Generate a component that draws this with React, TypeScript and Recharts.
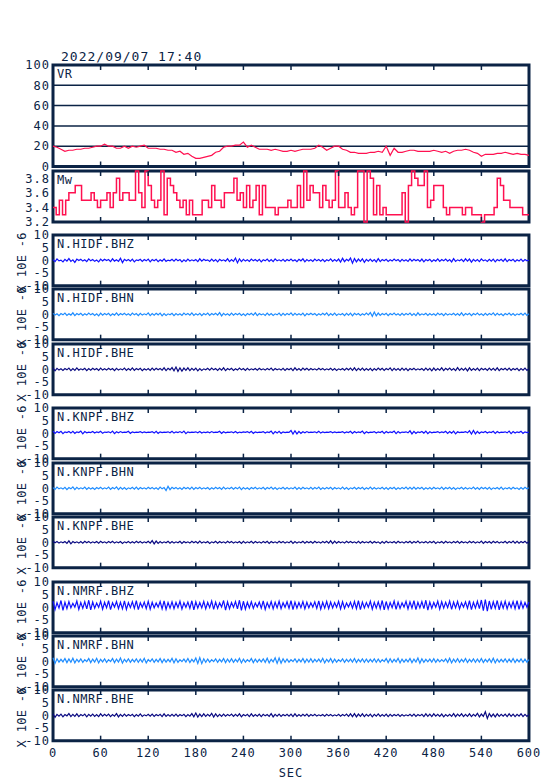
import { LineChart, Line, XAxis, YAxis, CartesianGrid, ReferenceArea, Label } from "recharts";

const TITLE = "2022/09/07 17:40";
const X_TICKS = [0, 60, 120, 180, 240, 300, 360, 420, 480, 540, 600];
const VR_TICKS = [0, 20, 40, 60, 80, 100];
const MW_TICKS = [3.2, 3.4, 3.6, 3.8];
const AMP_TICKS = [-10, -5, 0, 5, 10];

// VR every 5 s
const VR = [
  20, 19, 17, 15, 16, 16, 17, 17, 18, 18,
  19, 20, 20, 22, 20, 20, 18, 18, 20, 18,
  20, 19, 20, 21, 18, 18, 18, 17, 17, 16,
  16, 14, 15, 12, 13, 10, 8, 8, 9, 10,
  11, 14, 15, 19, 20, 20, 21, 21, 24, 19,
  21, 19, 17, 17, 17, 16, 17, 16, 15, 15,
  16, 15, 16, 17, 17, 17, 18, 21, 19, 16,
  18, 20, 20, 17, 16, 14, 14, 13, 13, 13,
  14, 14, 15, 14, 20, 11, 18, 14, 14, 15,
  16, 16, 15, 15, 15, 15, 16, 15, 14, 15,
  13, 15, 16, 16, 17, 16, 14, 13, 10, 12,
  12, 12, 13, 13, 14, 13, 12, 13, 12, 12,
  11,
];

// Mw every 4 s
const MW = [
  3.4, 3.3, 3.5, 3.3, 3.5, 3.6, 3.6, 3.7, 3.7, 3.5,
  3.5, 3.5, 3.6, 3.5, 3.4, 3.5, 3.5, 3.6, 3.4, 3.6,
  3.8, 3.5, 3.6, 3.6, 3.5, 3.5, 3.9, 3.6, 3.4, 3.9,
  3.7, 3.5, 3.4, 3.5, 3.9, 3.3, 3.8, 3.7, 3.6, 3.5,
  3.4, 3.5, 3.3, 3.5, 3.3, 3.3, 3.3, 3.5, 3.5, 3.4,
  3.7, 3.5, 3.5, 3.4, 3.6, 3.6, 3.6, 3.8, 3.5, 3.6,
  3.4, 3.7, 3.4, 3.5, 3.7, 3.3, 3.7, 3.4, 3.4, 3.4,
  3.3, 3.4, 3.4, 3.4, 3.5, 3.4, 3.4, 3.7, 3.4, 3.9,
  3.5, 3.7, 3.6, 3.6, 3.4, 3.7, 3.5, 3.4, 3.5, 3.9,
  3.4, 3.4, 3.6, 3.4, 3.3, 3.4, 3.9, 3.9, 3.2, 3.9,
  3.8, 3.3, 3.7, 3.3, 3.4, 3.3, 3.3, 3.3, 3.3, 3.3,
  3.6, 3.2, 3.7, 3.9, 3.8, 3.7, 3.7, 3.9, 3.4, 3.5,
  3.7, 3.7, 3.7, 3.4, 3.3, 3.4, 3.4, 3.4, 3.4, 3.3,
  3.4, 3.4, 3.3, 3.3, 3.3, 3.2, 3.3, 3.3, 3.3, 3.4,
  3.8, 3.7, 3.5, 3.5, 3.4, 3.4, 3.4, 3.4, 3.3, 3.3,
  3.3,
];

// seismograms every 2.5 s, x 10E-6
const HIDF_BHZ = [
  0.3, -0.5, 0.6, -0.2, 0.1, -0.6, 0.4, -0.3, 0.7, -0.4,
  0.2, -0.8, 0.5, -0.1, 0.4, -0.3, 0.2, -0.5, 0.6, -0.2,
  0.3, -0.4, 0.1, -0.6, 0.5, -0.2, 0.4, -0.1, 0.3, -0.5,
  0.6, -0.3, 0.2, -0.4, 0.8, -0.9, 0.4, -0.2, 0.3, -0.3,
  0.5, -0.6, 0.2, -0.1, 0.4, -0.4, 0.3, -0.2, 0.5, -0.6,
  0.3, -0.2, 0.4, -0.5, 0.2, -0.3, 0.6, -0.4, 0.1, -0.2,
  0.4, -0.3, 0.5, -0.2, 0.3, -0.6, 0.2, -0.4, 0.5, -0.3,
  0.2, -0.2, 0.3, -0.5, 0.6, -0.3, 0.4, -0.1, 0.2, -0.4,
  0.5, -0.3, 0.3, -0.6, 0.4, -0.2, 0.2, -0.3, 0.6, -0.5,
  0.3, -0.4, 0.9, -1.0, 0.6, -0.5, 0.4, -0.3, 0.2, -0.4,
  0.5, -0.2, 0.3, -0.3, 0.4, -0.6, 0.2, -0.2, 0.5, -0.4,
  0.3, -0.5, 0.6, -0.2, 0.2, -0.3, 0.4, -0.4, 0.3, -0.2,
  0.5, -0.3, 0.2, -0.5, 0.4, -0.2, 0.6, -0.6, 0.3, -0.3,
  0.2, -0.4, 0.5, -0.2, 0.3, -0.3, 0.4, -0.5, 0.2, -0.2,
  0.6, -0.4, 0.3, -0.3, 0.5, -0.7, 0.8, -0.5, 0.4, -0.2,
  0.9, -1.1, 0.7, -0.6, 0.5, -0.4, 0.6, -0.8, 0.4, -0.3,
  0.5, -0.4, 0.3, -0.6, 0.7, -0.5, 0.3, -0.2, 0.4, -0.4,
  0.2, -0.3, 0.5, -0.2, 0.3, -0.5, 0.4, -0.3, 0.2, -0.4,
  0.6, -0.3, 0.4, -0.2, 0.3, -0.4, 0.5, -0.6, 0.3, -0.2,
  0.4, -0.5, 0.2, -0.3, 0.6, -0.4, 0.3, -0.2, 0.5, -0.3,
  0.3, -0.6, 0.7, -0.4, 0.2, -0.2, 0.4, -0.5, 0.6, -0.3,
  0.5, -0.7, 0.4, -0.3, 0.3, -0.5, 0.6, -0.2, 0.2, -0.4,
  0.4, -0.3, 0.5, -0.6, 0.3, -0.2, 0.4, -0.4, 0.6, -0.5,
  0.3, -0.2, 0.4, -0.5, 0.2, -0.3, 0.5, -0.4, 0.3, -0.2,
  0.1,
];
const HIDF_BHN = [
  0.4, -0.3, 0.2, -0.5, 0.3, -0.2, 0.5, -0.4, 0.2, -0.3,
  0.6, -0.5, 0.3, -0.2, 0.4, -0.4, 0.2, -0.3, 0.5, -0.2,
  0.3, -0.4, 0.2, -0.6, 0.5, -0.3, 0.3, -0.2, 0.4, -0.5,
  0.2, -0.3, 0.6, -0.4, 0.3, -0.2, 0.4, -0.3, 0.2, -0.4,
  0.5, -0.2, 0.3, -0.5, 0.4, -0.3, 0.2, -0.2, 0.6, -0.5,
  0.3, -0.3, 0.4, -0.2, 0.5, -0.6, 0.3, -0.4, 0.2, -0.2,
  0.4, -0.5, 0.3, -0.3, 0.2, -0.4, 0.5, -0.2, 0.3, -0.3,
  0.6, -0.4, 0.2, -0.3, 0.4, -0.5, 0.3, -0.2, 0.5, -0.4,
  0.3, -0.2, 0.4, -0.3, 0.7, -0.6, 0.4, -0.3, 0.2, -0.4,
  0.5, -0.3, 0.3, -0.2, 0.4, -0.4, 0.2, -0.5, 0.3, -0.2,
  0.4, -0.3, 0.6, -0.5, 0.3, -0.2, 0.2, -0.4, 0.5, -0.3,
  0.3, -0.4, 0.2, -0.2, 0.5, -0.5, 0.4, -0.3, 0.3, -0.2,
  0.6, -0.4, 0.4, -0.3, 0.2, -0.3, 0.5, -0.6, 0.3, -0.2,
  0.4, -0.2, 0.3, -0.4, 0.2, -0.3, 0.4, -0.2, 0.6, -0.5,
  0.3, -0.3, 0.5, -0.4, 0.2, -0.2, 0.3, -0.5, 0.4, -0.3,
  0.5, -0.6, 0.4, -0.2, 0.3, -0.4, 0.2, -0.3, 0.5, -0.2,
  0.7, -0.8, 0.9, -0.6, 0.5, -0.4, 0.3, -0.2, 0.4, -0.5,
  0.3, -0.2, 0.5, -0.3, 0.2, -0.4, 0.4, -0.3, 0.3, -0.2,
  0.5, -0.4, 0.3, -0.5, 0.6, -0.3, 0.2, -0.2, 0.4, -0.4,
  0.3, -0.3, 0.2, -0.4, 0.5, -0.2, 0.3, -0.5, 0.4, -0.3,
  0.2, -0.2, 0.4, -0.3, 0.3, -0.4, 0.6, -0.5, 0.3, -0.2,
  0.4, -0.5, 0.3, -0.2, 0.5, -0.3, 0.2, -0.4, 0.4, -0.3,
  0.3, -0.2, 0.6, -0.4, 0.4, -0.3, 0.2, -0.5, 0.3, -0.2,
  0.5, -0.3, 0.3, -0.4, 0.2, -0.2, 0.4, -0.3, 0.5, -0.4,
  0.2,
];
const HIDF_BHE = [
  0.5, -0.6, 0.4, -0.3, 0.2, -0.4, 0.3, -0.2, 0.5, -0.5,
  0.3, -0.4, 0.6, -0.3, 0.2, -0.2, 0.4, -0.5, 0.3, -0.3,
  0.4, -0.2, 0.3, -0.4, 0.5, -0.3, 0.2, -0.3, 0.4, -0.2,
  0.3, -0.5, 0.4, -0.3, 0.2, -0.2, 0.5, -0.4, 0.3, -0.3,
  0.6, -0.4, 0.3, -0.2, 0.4, -0.5, 0.2, -0.3, 0.3, -0.4,
  0.5, -0.3, 0.4, -0.2, 0.3, -0.3, 0.6, -0.5, 0.4, -0.2,
  0.7, -0.6, 0.9, -0.8, 0.6, -0.7, 0.5, -0.4, 0.6, -0.5,
  0.4, -0.3, 0.5, -0.6, 0.3, -0.4, 0.2, -0.2, 0.4, -0.3,
  0.5, -0.2, 0.3, -0.4, 0.4, -0.3, 0.6, -0.5, 0.3, -0.2,
  0.4, -0.4, 0.2, -0.3, 0.5, -0.2, 0.3, -0.4, 0.4, -0.3,
  0.2, -0.2, 0.3, -0.3, 0.4, -0.2, 0.2, -0.3, 0.3, -0.2,
  0.5, -0.4, 0.3, -0.2, 0.2, -0.3, 0.4, -0.4, 0.3, -0.2,
  0.4, -0.5, 0.6, -0.3, 0.3, -0.4, 0.5, -0.2, 0.4, -0.3,
  0.3, -0.2, 0.2, -0.3, 0.4, -0.2, 0.3, -0.3, 0.2, -0.2,
  0.4, -0.3, 0.3, -0.4, 0.2, -0.2, 0.3, -0.3, 0.4, -0.2,
  0.5, -0.4, 0.6, -0.5, 0.4, -0.3, 0.5, -0.4, 0.3, -0.3,
  0.4, -0.5, 0.3, -0.3, 0.5, -0.2, 0.4, -0.4, 0.3, -0.2,
  0.6, -0.5, 0.4, -0.3, 0.3, -0.4, 0.5, -0.3, 0.4, -0.5,
  0.3, -0.2, 0.4, -0.3, 0.2, -0.2, 0.3, -0.4, 0.5, -0.3,
  0.4, -0.6, 0.5, -0.4, 0.3, -0.3, 0.6, -0.5, 0.4, -0.2,
  0.5, -0.3, 0.3, -0.5, 0.7, -0.4, 0.4, -0.3, 0.5, -0.6,
  0.6, -0.4, 0.3, -0.3, 0.5, -0.5, 0.4, -0.2, 0.3, -0.4,
  0.5, -0.3, 0.4, -0.4, 0.6, -0.5, 0.3, -0.2, 0.4, -0.3,
  0.5, -0.4, 0.3, -0.2, 0.4, -0.5, 0.3, -0.3, 0.5, -0.4,
  0.3,
];
const KNPF_BHZ = [
  0.9, 0.0, 0.7, 0.2, 0.8, -0.1, 0.6, 0.3, 0.7, 0.1,
  0.8, 0.0, 0.6, 0.3, 0.9, -0.2, 0.7, 0.2, 0.5, 0.3,
  0.7, 0.1, 0.6, 0.3, 0.8, 0.0, 0.5, 0.4, 0.6, 0.2,
  0.9, -0.1, 0.6, 0.2, 0.7, 0.3, 0.5, 0.4, 0.8, 0.0,
  0.6, 0.3, 0.5, 0.4, 0.7, 0.2, 0.6, 0.3, 0.5, 0.4,
  0.7, 0.1, 0.8, 0.0, 0.6, 0.3, 0.5, 0.4, 0.6, 0.2,
  0.8, 0.1, 0.6, 0.3, 0.7, 0.2, 0.9, -0.1, 0.6, 0.3,
  0.5, 0.4, 0.6, 0.2, 0.7, 0.1, 0.5, 0.3, 0.6, 0.2,
  0.7, 0.3, 0.5, 0.4, 0.8, 0.0, 0.6, 0.2, 0.5, 0.4,
  0.6, 0.2, 0.7, 0.1, 0.5, 0.3, 0.6, 0.4, 0.7, 0.2,
  0.8, 0.0, 0.6, 0.3, 0.5, 0.4, 0.7, 0.1, 0.6, 0.3,
  0.9, -0.2, 0.7, 0.1, 0.8, 0.0, 0.6, 0.3, 0.5, 0.4,
  1.1, -0.3, 1.0, -0.2, 0.8, 0.0, 0.6, 0.2, 0.7, 0.3,
  0.5, 0.4, 0.6, 0.2, 0.8, 0.1, 0.6, 0.3, 0.5, 0.4,
  0.7, 0.2, 0.6, 0.3, 0.5, 0.4, 0.7, 0.1, 0.6, 0.3,
  0.8, 0.0, 0.7, 0.2, 0.6, 0.3, 0.9, -0.1, 0.6, 0.2,
  0.5, 0.4, 0.7, 0.1, 0.6, 0.3, 0.8, 0.0, 0.7, 0.2,
  0.6, 0.3, 0.9, -0.1, 0.7, 0.1, 0.5, 0.4, 0.6, 0.2,
  1.0, -0.2, 0.8, 0.0, 0.6, 0.3, 0.7, 0.1, 0.9, -0.1,
  0.6, 0.2, 0.5, 0.4, 0.7, 0.2, 0.6, 0.3, 0.8, 0.0,
  0.7, 0.1, 0.9, -0.2, 0.6, 0.3, 0.5, 0.4, 0.7, 0.2,
  1.0, -0.3, 1.1, -0.2, 0.8, 0.0, 0.6, 0.3, 0.7, 0.1,
  0.6, 0.3, 0.8, 0.0, 0.7, 0.2, 0.5, 0.4, 0.6, 0.2,
  0.9, -0.1, 0.7, 0.1, 0.6, 0.3, 0.8, 0.0, 0.6, 0.3,
  0.5,
];
const KNPF_BHN = [
  0.3, -0.4, 0.5, -0.2, 0.2, -0.3, 0.4, -0.5, 0.3, -0.2,
  0.6, -0.5, 0.4, -0.3, 0.2, -0.2, 0.5, -0.4, 0.3, -0.3,
  0.2, -0.4, 0.3, -0.2, 0.4, -0.3, 0.2, -0.2, 0.5, -0.4,
  0.3, -0.2, 0.6, -0.5, 0.4, -0.3, 0.3, -0.4, 0.2, -0.2,
  0.4, -0.3, 0.5, -0.4, 0.3, -0.2, 0.2, -0.3, 0.4, -0.2,
  0.3, -0.3, 0.2, -0.4, 0.5, -0.2, 0.3, -0.9, 0.8, -0.5,
  0.4, -0.2, 0.3, -0.3, 0.2, -0.4, 0.4, -0.2, 0.3, -0.3,
  0.5, -0.4, 0.3, -0.2, 0.4, -0.3, 0.2, -0.2, 0.3, -0.4,
  0.2, -0.3, 0.4, -0.2, 0.3, -0.4, 0.5, -0.3, 0.2, -0.2,
  0.4, -0.3, 0.3, -0.2, 0.5, -0.5, 0.3, -0.3, 0.2, -0.4,
  0.3, -0.2, 0.4, -0.3, 0.2, -0.2, 0.4, -0.4, 0.3, -0.2,
  0.5, -0.3, 0.3, -0.4, 0.2, -0.2, 0.4, -0.3, 0.3, -0.3,
  0.2, -0.2, 0.5, -0.4, 0.3, -0.3, 0.4, -0.2, 0.2, -0.3,
  0.4, -0.3, 0.3, -0.2, 0.5, -0.4, 0.2, -0.3, 0.3, -0.2,
  0.4, -0.4, 0.3, -0.2, 0.2, -0.3, 0.5, -0.3, 0.3, -0.4,
  0.2, -0.2, 0.4, -0.3, 0.3, -0.2, 0.4, -0.4, 0.2, -0.3,
  0.5, -0.3, 0.3, -0.3, 0.2, -0.2, 0.4, -0.3, 0.3, -0.4,
  0.3, -0.2, 0.4, -0.4, 0.2, -0.3, 0.3, -0.2, 0.5, -0.3,
  0.4, -0.3, 0.5, -0.3, 0.3, -0.2, 0.4, -0.4, 0.2, -0.3,
  0.3, -0.3, 0.4, -0.2, 0.2, -0.3, 0.5, -0.4, 0.3, -0.2,
  0.4, -0.3, 0.3, -0.4, 0.2, -0.2, 0.4, -0.3, 0.3, -0.3,
  0.2, -0.2, 0.5, -0.3, 0.3, -0.4, 0.4, -0.2, 0.3, -0.3,
  0.4, -0.4, 0.2, -0.2, 0.3, -0.3, 0.5, -0.4, 0.2, -0.2,
  0.3, -0.3, 0.4, -0.2, 0.2, -0.4, 0.3, -0.3, 0.4, -0.2,
  0.2,
];
const KNPF_BHE = [
  0.4, -0.2, 0.3, -0.3, 0.2, -0.2, 0.3, -0.4, 0.6, -0.6,
  0.3, -0.2, 0.2, -0.3, 0.3, -0.3, 0.4, -0.2, 0.3, -0.3,
  0.2, -0.2, 0.3, -0.3, 0.4, -0.2, 0.2, -0.3, 0.3, -0.2,
  0.4, -0.3, 0.2, -0.2, 0.3, -0.4, 0.2, -0.2, 0.3, -0.3,
  0.2, -0.3, 0.4, -0.2, 0.3, -0.3, 0.2, -0.2, 0.4, -0.3,
  0.7, -0.6, 0.5, -0.4, 0.3, -0.3, 0.2, -0.2, 0.4, -0.3,
  0.3, -0.3, 0.2, -0.2, 0.4, -0.4, 0.3, -0.2, 0.2, -0.3,
  0.4, -0.2, 0.3, -0.3, 0.5, -0.3, 0.2, -0.2, 0.3, -0.4,
  0.2, -0.2, 0.4, -0.3, 0.3, -0.2, 0.2, -0.3, 0.4, -0.2,
  0.3, -0.3, 0.2, -0.2, 0.3, -0.4, 0.4, -0.3, 0.2, -0.2,
  0.4, -0.3, 0.3, -0.2, 0.2, -0.3, 0.3, -0.2, 0.4, -0.4,
  0.3, -0.2, 0.2, -0.3, 0.4, -0.2, 0.3, -0.3, 0.2, -0.2,
  0.5, -0.4, 0.3, -0.3, 0.2, -0.2, 0.4, -0.3, 0.3, -0.2,
  0.3, -0.3, 0.4, -0.2, 0.2, -0.3, 0.3, -0.2, 0.4, -0.3,
  0.6, -0.5, 0.5, -0.3, 0.3, -0.2, 0.2, -0.3, 0.4, -0.2,
  0.3, -0.2, 0.2, -0.3, 0.4, -0.3, 0.3, -0.2, 0.2, -0.2,
  0.4, -0.3, 0.3, -0.2, 0.2, -0.4, 0.3, -0.3, 0.4, -0.2,
  0.2, -0.2, 0.3, -0.3, 0.4, -0.2, 0.2, -0.3, 0.3, -0.2,
  0.4, -0.3, 0.3, -0.2, 0.5, -0.3, 0.2, -0.2, 0.3, -0.3,
  0.3, -0.2, 0.4, -0.4, 0.2, -0.2, 0.3, -0.3, 0.4, -0.2,
  0.2, -0.3, 0.3, -0.2, 0.4, -0.3, 0.3, -0.2, 0.2, -0.3,
  0.4, -0.2, 0.3, -0.3, 0.2, -0.2, 0.5, -0.4, 0.3, -0.2,
  0.3, -0.3, 0.4, -0.2, 0.3, -0.3, 0.2, -0.2, 0.4, -0.3,
  0.3, -0.2, 0.5, -0.3, 0.4, -0.3, 0.3, -0.2, 0.4, -0.3,
  0.3,
];
const NMRF_BHZ = [
  2.4, -0.9, 1.8, -0.3, 2.7, -1.2, 2.0, -0.5, 2.3, -0.2,
  1.6, 0.1, 2.5, -0.8, 1.9, -0.4, 2.2, -0.6, 2.8, -1.0,
  2.1, -0.3, 1.7, 0.0, 2.4, -0.7, 2.0, -0.2, 2.6, -0.9,
  1.8, 0.1, 2.3, -0.5, 2.0, -0.6, 2.5, -0.8, 1.9, -0.1,
  2.2, -0.4, 2.6, -0.9, 1.8, 0.0, 2.1, -0.5, 2.4, -0.7,
  2.0, -0.2, 1.7, 0.1, 2.3, -0.6, 2.5, -0.8, 1.9, -0.3,
  2.2, -0.5, 2.0, -0.1, 2.4, -0.7, 1.8, 0.0, 2.1, -0.4,
  2.6, -1.0, 2.2, -0.3, 1.9, -0.2, 2.3, -0.6, 2.0, -0.1,
  2.5, -0.8, 2.1, -0.4, 1.8, 0.1, 2.7, -1.1, 2.2, -0.5,
  1.9, 0.0, 2.3, -0.6, 2.8, -1.2, 2.4, -0.7, 2.0, -0.2,
  2.2, -0.4, 1.7, 0.1, 2.1, -0.3, 2.5, -0.8, 1.9, -0.1,
  2.3, -0.6, 2.0, -0.2, 2.4, -0.5, 1.8, 0.0, 2.2, -0.4,
  2.6, -0.9, 2.1, -0.3, 1.9, -0.1, 2.3, -0.6, 2.0, -0.2,
  1.8, 0.1, 2.2, -0.4, 2.5, -0.7, 2.0, -0.3, 2.3, -0.5,
  2.1, -0.2, 1.9, 0.0, 2.4, -0.6, 2.2, -0.4, 1.7, 0.1,
  2.0, -0.3, 2.3, -0.5, 2.6, -0.9, 2.1, -0.2, 1.9, 0.0,
  2.4, -0.7, 2.0, -0.3, 2.2, -0.5, 2.7, -1.0, 2.3, -0.6,
  1.9, -0.1, 2.5, -0.8, 2.1, -0.4, 1.8, 0.1, 2.4, -0.6,
  2.2, -0.3, 2.6, -0.9, 2.0, -0.2, 2.3, -0.5, 2.8, -1.1,
  2.1, -0.4, 1.9, 0.0, 2.4, -0.7, 2.2, -0.3, 2.0, -0.1,
  2.5, -0.8, 2.1, -0.2, 2.3, -0.6, 1.8, 0.1, 2.2, -0.4,
  2.6, -0.9, 2.0, -0.3, 2.4, -0.5, 2.9, -1.3, 3.1, -1.5,
  2.5, -0.8, 2.2, -0.4, 2.7, -1.0, 2.1, -0.3, 2.4, -0.6,
  2.0, -0.1, 2.3, -0.5, 2.6, -0.8, 2.2, -0.3, 1.9, 0.0,
  2.1,
];
const NMRF_BHN = [
  1.4, -0.8, 1.0, -0.3, 0.8, -0.2, 1.1, -0.5, 0.9, -0.4,
  1.2, -0.6, 0.8, -0.2, 1.0, -0.4, 0.7, -0.1, 1.1, -0.5,
  0.9, -0.3, 1.2, -0.6, 0.8, -0.2, 1.0, -0.4, 0.7, -0.1,
  1.1, -0.5, 0.9, -0.3, 1.3, -0.7, 0.8, -0.2, 1.0, -0.4,
  0.8, -0.2, 1.0, -0.4, 0.9, -0.3, 1.2, -0.6, 0.7, -0.1,
  1.0, -0.4, 0.8, -0.2, 1.1, -0.5, 0.9, -0.3, 0.8, -0.2,
  1.2, -0.6, 1.0, -0.4, 0.7, -0.1, 0.9, -0.3, 1.1, -0.5,
  0.8, -0.2, 1.3, -0.8, 1.5, -0.9, 1.0, -0.4, 0.9, -0.3,
  0.7, -0.1, 1.0, -0.4, 0.8, -0.2, 1.1, -0.5, 0.9, -0.3,
  1.0, -0.4, 0.8, -0.2, 1.2, -0.6, 0.9, -0.3, 0.7, -0.1,
  1.1, -0.5, 0.9, -0.3, 0.8, -0.2, 1.0, -0.4, 1.2, -0.6,
  0.8, -0.2, 1.4, -0.8, 1.3, -0.7, 1.0, -0.4, 0.9, -0.3,
  0.7, -0.1, 1.0, -0.4, 0.8, -0.2, 1.1, -0.5, 0.9, -0.3,
  1.0, -0.4, 0.8, -0.2, 0.9, -0.3, 1.2, -0.6, 0.8, -0.2,
  1.1, -0.5, 0.9, -0.3, 0.7, -0.1, 1.0, -0.4, 0.8, -0.2,
  0.9, -0.3, 1.1, -0.5, 0.8, -0.2, 1.0, -0.4, 0.9, -0.3,
  0.8, -0.2, 1.0, -0.4, 0.9, -0.3, 0.7, -0.1, 1.1, -0.5,
  1.0, -0.4, 0.8, -0.2, 1.2, -0.6, 0.9, -0.3, 0.8, -0.2,
  1.1, -0.5, 0.9, -0.3, 1.3, -0.7, 1.0, -0.4, 0.8, -0.2,
  0.9, -0.3, 1.0, -0.4, 0.8, -0.2, 0.7, -0.1, 1.0, -0.4,
  1.2, -0.6, 0.9, -0.3, 1.0, -0.4, 0.8, -0.2, 1.1, -0.5,
  0.8, -0.2, 1.0, -0.4, 0.9, -0.3, 1.1, -0.5, 0.8, -0.2,
  1.0, -0.4, 1.2, -0.6, 0.9, -0.3, 0.8, -0.2, 1.0, -0.4,
  0.9, -0.3, 1.1, -0.5, 0.8, -0.2, 1.0, -0.4, 0.9, -0.3,
  0.7,
];
const NMRF_BHE = [
  0.6, -0.8, 0.4, -0.3, 0.5, -0.6, 0.3, -0.2, 0.7, -0.5,
  0.4, -0.4, 0.6, -0.5, 0.3, -0.2, 0.5, -0.6, 0.4, -0.3,
  0.5, -0.4, 0.3, -0.5, 0.6, -0.3, 0.4, -0.2, 0.5, -0.5,
  0.3, -0.3, 0.7, -0.6, 0.4, -0.4, 0.5, -0.3, 0.3, -0.2,
  0.4, -0.5, 0.3, -0.3, 0.6, -0.4, 0.2, -0.2, 0.4, -0.3,
  0.5, -0.4, 0.3, -0.2, 0.4, -0.5, 0.6, -0.4, 0.3, -0.3,
  0.4, -0.3, 0.5, -0.4, 0.3, -0.2, 0.4, -0.5, 0.3, -0.3,
  0.7, -0.6, 0.9, -0.7, 0.5, -0.5, 0.6, -0.4, 0.4, -0.3,
  0.8, -0.7, 0.6, -0.5, 0.4, -0.4, 0.5, -0.3, 0.3, -0.2,
  0.5, -0.4, 0.4, -0.3, 0.6, -0.6, 0.3, -0.2, 0.4, -0.5,
  0.6, -0.4, 0.3, -0.3, 0.5, -0.5, 0.4, -0.2, 0.3, -0.4,
  0.7, -0.6, 0.4, -0.3, 0.5, -0.4, 0.3, -0.2, 0.4, -0.3,
  0.5, -0.5, 0.6, -0.4, 0.3, -0.3, 0.4, -0.2, 0.5, -0.4,
  0.3, -0.2, 0.4, -0.3, 0.2, -0.2, 0.3, -0.3, 0.4, -0.2,
  0.3, -0.3, 0.2, -0.2, 0.4, -0.3, 0.3, -0.2, 0.5, -0.4,
  0.6, -0.5, 0.7, -0.6, 0.5, -0.4, 0.6, -0.5, 0.4, -0.3,
  0.5, -0.6, 0.4, -0.3, 0.6, -0.4, 0.3, -0.3, 0.5, -0.5,
  0.4, -0.3, 0.3, -0.2, 0.4, -0.4, 0.3, -0.3, 0.2, -0.2,
  0.4, -0.3, 0.5, -0.4, 0.3, -0.2, 0.4, -0.5, 0.6, -0.4,
  0.5, -0.5, 0.6, -0.3, 0.4, -0.4, 0.5, -0.6, 0.3, -0.3,
  0.4, -0.4, 0.7, -0.5, 0.5, -0.3, 0.6, -0.5, 0.4, -0.4,
  0.6, -0.5, 0.4, -0.3, 0.8, -0.6, 0.5, -0.4, 1.4, -1.2,
  0.7, -0.5, 0.5, -0.6, 0.6, -0.4, 0.4, -0.3, 0.5, -0.5,
  0.6, -0.4, 0.5, -0.5, 0.4, -0.3, 0.6, -0.5, 0.4, -0.4,
  0.4,
];

const INK = "#0b2345";
const RED = "#ff1050";
const COMP_Z = "#1212ff";
const COMP_N = "#1e8cff";
const COMP_E = "#0a0a82";
const FONT = "'DejaVu Sans Mono', monospace";

const SEISMIC = [
  { name: "N.HIDF.BHZ", values: HIDF_BHZ, color: COMP_Z },
  { name: "N.HIDF.BHN", values: HIDF_BHN, color: COMP_N },
  { name: "N.HIDF.BHE", values: HIDF_BHE, color: COMP_E },
  { name: "N.KNPF.BHZ", values: KNPF_BHZ, color: COMP_Z },
  { name: "N.KNPF.BHN", values: KNPF_BHN, color: COMP_N },
  { name: "N.KNPF.BHE", values: KNPF_BHE, color: COMP_E },
  { name: "N.NMRF.BHZ", values: NMRF_BHZ, color: COMP_Z },
  { name: "N.NMRF.BHN", values: NMRF_BHN, color: COMP_N },
  { name: "N.NMRF.BHE", values: NMRF_BHE, color: COMP_E },
];

const series = (values: number[], step: number) => values.map((v, i) => ({ t: i * step, v }));
const blank = () => "";

const tickText = { fill: INK, fontSize: 12, fontFamily: FONT, letterSpacing: 1 };

function UnitLabel(props: any) {
  const vb = props.viewBox;
  const cy = vb.y + vb.height / 2 + 2;
  return (
    <text x={22} y={cy} transform={`rotate(-90 22 ${cy})`} textAnchor="middle" dominantBaseline="central"
      fill={INK} fontSize={12} fontFamily={FONT} letterSpacing={0.3}>
      X 10E -6
    </text>
  );
}

type PanelProps = {
  top: number;
  height: number;
  data: { t: number; v: number }[];
  color: string;
  domain: [number, number];
  ticks: number[];
  inner: number[];
  name: string;
  grid?: boolean;
  unit?: boolean;
  last?: boolean;
  step?: boolean;
  width?: number;
};

function Panel(p: PanelProps) {
  const padT = 10;
  const padB = p.last ? 4 : 10;
  const axisH = p.last ? 38 : 0;
  const h = padT + p.height + padB + axisH;
  const innerTick = { stroke: INK, strokeWidth: 1.5 };
  return (
    <div style={{ position: "absolute", left: 0, top: p.top - padT }}>
      <LineChart width={554} height={h} data={p.data} margin={{ top: padT, right: 25, bottom: padB, left: 0 }}>
        <XAxis xAxisId="b" dataKey="t" type="number" domain={[0, 600]} ticks={X_TICKS} mirror tickSize={5}
          tickFormatter={blank} axisLine={false} tickLine={innerTick} />
        <XAxis xAxisId="t" orientation="top" dataKey="t" type="number" domain={[0, 600]} ticks={X_TICKS} mirror
          tickSize={5} tickFormatter={blank} axisLine={false} tickLine={innerTick} />
        {p.last && (
          <XAxis xAxisId="l" dataKey="t" type="number" domain={[0, 600]} ticks={X_TICKS} height={axisH}
            tickSize={0} tickMargin={8} axisLine={false} tick={tickText}>
            <Label value="SEC" position="insideBottom" offset={2} fill={INK} fontSize={12} fontFamily={FONT} letterSpacing={1} />
          </XAxis>
        )}
        <YAxis yAxisId="l" type="number" domain={p.domain} ticks={p.ticks} width={53} tickSize={0} tickMargin={3}
          axisLine={false} tick={tickText} interval={0}>
          {p.unit && <Label content={UnitLabel} />}
        </YAxis>
        <YAxis yAxisId="li" type="number" domain={p.domain} ticks={p.inner} mirror tickSize={5}
          tickFormatter={blank} axisLine={false} tickLine={innerTick} />
        <YAxis yAxisId="ri" orientation="right" type="number" domain={p.domain} ticks={p.inner} mirror tickSize={5}
          tickFormatter={blank} axisLine={false} tickLine={innerTick} />
        {p.grid && <CartesianGrid xAxisId="b" yAxisId="l" vertical={false} stroke={INK} strokeWidth={1.5} />}
        <Line xAxisId="b" yAxisId="l" dataKey="v" type={p.step ? "stepAfter" : "linear"} stroke={p.color}
          strokeWidth={p.width ?? 1.5} dot={false} isAnimationActive={false} />
        <ReferenceArea xAxisId="b" yAxisId="l" x1={0} x2={600} y1={p.domain[0]} y2={p.domain[1]} fill="none"
          fillOpacity={0} stroke={INK} strokeWidth={3} ifOverflow="visible">
          <Label value={p.name} position="insideTopLeft" offset={4} fill={INK} fontSize={12} fontFamily={FONT} letterSpacing={0.5} />
        </ReferenceArea>
      </LineChart>
    </div>
  );
}

export default function App() {
  const seisTop = (i: number) => 235 + Math.floor(i / 3) * 173.3 + (i % 3) * 54.3;
  return (
    <div style={{ position: "absolute", left: 0, top: 0, width: 554, height: 781, background: "#fff", overflow: "hidden" }}>
      <div style={{ position: "absolute", left: 61, top: 50, fontFamily: FONT, fontSize: 13, lineHeight: "14px",
        letterSpacing: 1, color: INK, whiteSpace: "pre" }}>
        {TITLE}
      </div>
      <Panel top={65} height={101.5} data={series(VR, 5)} color={RED} domain={[0, 100]} ticks={VR_TICKS}
        inner={[]} name="VR" grid width={1.2} />
      <Panel top={170.5} height={51} data={series(MW, 4)} color={RED} domain={[3.2, 3.9]} ticks={MW_TICKS}
        inner={[3.4, 3.6, 3.8]} name="Mw" step />
      {SEISMIC.map((s, i) => (
        <Panel key={s.name} top={seisTop(i)} height={50.7} data={series(s.values, 2.5)} color={s.color}
          domain={[-10, 10]} ticks={AMP_TICKS} inner={[-5, 5]} name={s.name} unit width={1.2}
          last={i === SEISMIC.length - 1} />
      ))}
    </div>
  );
}
